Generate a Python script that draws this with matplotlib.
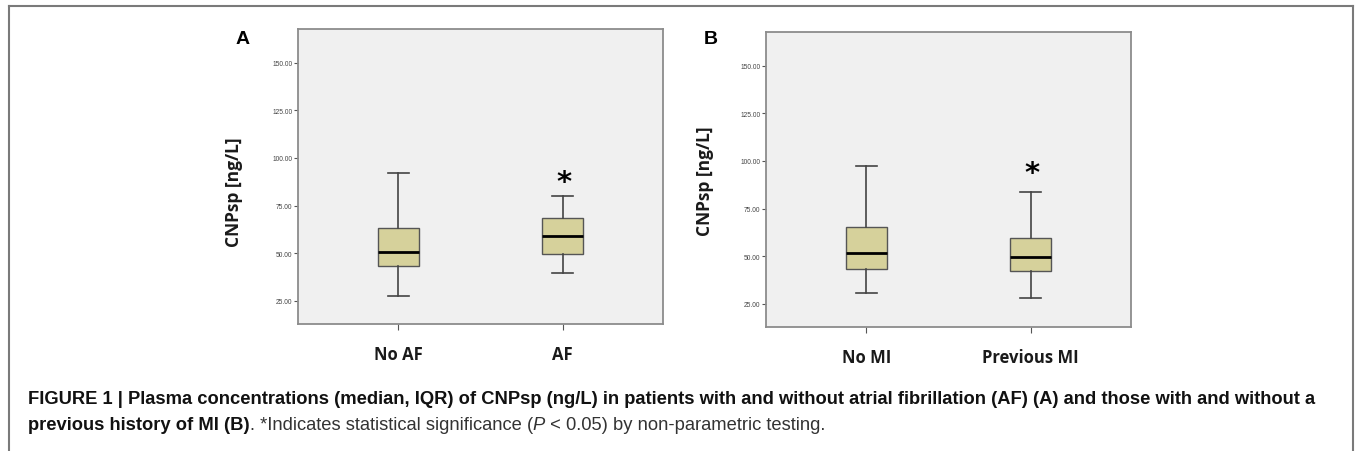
import matplotlib
matplotlib.use('Agg')
import matplotlib.pyplot as plt
from matplotlib.lines import Line2D

plt.rcParams['font.family'] = ['Liberation Sans', 'DejaVu Sans']

# ---- data ----
groups_a = ['No AF', 'AF']
a_whislo = [27.6, 39.4]
a_q1 = [43.1, 49.4]
a_med = [50.7, 58.8]
a_q3 = [63.0, 68.3]
a_whishi = [92.1, 79.8]
a_star = [None, 87.3]

groups_b = ['No MI', 'Previous MI']
b_whislo = [30.6, 27.8]
b_q1 = [43.4, 42.4]
b_med = [51.7, 49.6]
b_q3 = [65.1, 59.4]
b_whishi = [97.3, 83.7]
b_star = [None, 93.6]

yticks = [25, 50, 75, 100, 125, 150]

W, H = 1355, 452
fig = plt.figure(figsize=(W / 100, H / 100), dpi=100)
fig.patch.set_facecolor('white')

box_col = '#d6d19b'


def panel(rect, groups, lo, q1, med, q3, hi, star, letter, lab_xy, letter_xy):
    ax = fig.add_axes(rect)
    ax.set_facecolor('#f0f0f0')
    stats = []
    for i, g in enumerate(groups):
        stats.append(dict(label=g, whislo=lo[i], q1=q1[i], med=med[i],
                          q3=q3[i], whishi=hi[i], fliers=[]))
    ax.bxp(stats, positions=[1, 2], widths=0.25, patch_artist=True,
           showfliers=False,
           boxprops=dict(facecolor=box_col, edgecolor='#555555', linewidth=1.0),
           medianprops=dict(color='black', linewidth=2.0),
           whiskerprops=dict(color='#444444', linewidth=1.2),
           capprops=dict(color='#444444', linewidth=1.2))
    for i, s in enumerate(star):
        if s is not None:
            ax.text(i + 1.01, s, '*', ha='center', va='center', fontsize=21,
                    fontweight='bold', family='DejaVu Sans')
    ax.set_xlim(0.39, 2.61)
    ax.set_ylim(12.7, 167.8)
    ax.set_yticks(yticks)
    ax.set_yticklabels(['%.2f' % v for v in yticks])
    ax.tick_params(axis='y', length=3, width=0.8, color='#555555',
                   labelsize=4.8, labelcolor='#444444', pad=1)
    ax.tick_params(axis='x', length=4, width=0.8, color='#555555',
                   labelsize=12, labelcolor='#1a1a1a', pad=11)
    for lbl in ax.get_xticklabels():
        lbl.set_family('Open Sans')
        lbl.set_fontweight('bold')
    for sp in ax.spines.values():
        sp.set_color('#8c8c8c')
        sp.set_linewidth(1.3)
    ax.set_ylabel('CNPsp [ng/L]', fontsize=12.5, family='Open Sans',
                  fontweight='bold', color='#1a1a1a')
    ax.yaxis.set_label_coords(*lab_xy)
    fig.text(letter_xy[0] / W, 1 - letter_xy[1] / H, letter, fontsize=14,
             fontweight='bold', ha='center', va='center')
    return ax


def frac(l, t, r, b):
    return [l / W, 1 - b / H, (r - l) / W, (b - t) / H]


panel(frac(298, 30, 663, 325), groups_a, a_whislo, a_q1, a_med, a_q3, a_whishi,
      a_star, 'A', (-0.151, 0.451), (243, 40))
panel(frac(766, 33, 1131, 328), groups_b, b_whislo, b_q1, b_med, b_q3, b_whishi,
      b_star, 'B', (-0.143, 0.496), (711, 39))

# outer frame (open at bottom)
fc = '#7a7a7a'
fig.add_artist(Line2D([9 / W, 9 / W], [0, 1 - 7 / H], color=fc, lw=1.5))
fig.add_artist(Line2D([9 / W, 1353 / W], [1 - 7 / H, 1 - 7 / H], color=fc, lw=1.5))
fig.add_artist(Line2D([1353 / W, 1353 / W], [0, 1 - 7 / H], color=fc, lw=1.5))

# caption
cap_fs = 13.2
fig.text(28 / W, 1 - 404 / H,
         'FIGURE 1 | Plasma concentrations (median, IQR) of CNPsp (ng/L) in patients '
         'with and without atrial fibrillation (AF) (A) and those with and without a',
         fontsize=cap_fs, fontweight='bold', color='#111111', va='baseline')
prev = fig.text(28 / W, 1 - 434 / H, 'previous history of MI (B)', fontsize=cap_fs,
                fontweight='bold', color='#111111', va='bottom')
pieces = [('. *Indicates statistical significance (', 'normal'),
          ('P', 'italic'),
          (' < 0.05) by non-parametric testing.', 'normal')]
for txt, st in pieces:
    prev = fig.add_artist(plt.Annotation(txt, xy=(1, 0), xycoords=prev, va='bottom',
                                         ha='left', fontsize=cap_fs, style=st,
                                         color='#333333'))

fig.savefig('out.png', dpi=100, facecolor='white')
